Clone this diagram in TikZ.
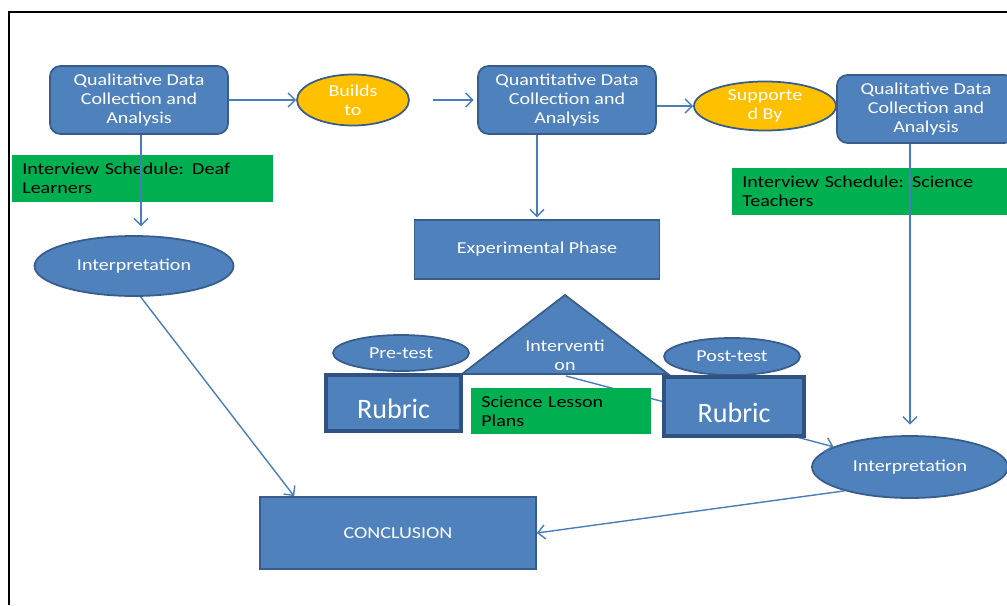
\documentclass[tikz,border=0pt]{standalone}
\usepackage{fontspec}
\setmainfont{Carlito}
\newfontfamily\widefont[FakeStretch=1.2]{Carlito}
\usepackage{tikz}
\usetikzlibrary{shapes.geometric, arrows.meta, calc}
\newcommand{\px}{0.02cm}
\definecolor{boxblue}{RGB}{79,129,189}
\definecolor{boxedge}{RGB}{56,93,138}
\definecolor{rubricedge}{RGB}{47,82,130}
\definecolor{toolgreen}{RGB}{0,176,80}
\definecolor{linkyellow}{RGB}{255,192,0}
\definecolor{lineblue}{RGB}{74,126,187}
\tikzset{>={Straight Barb[length=4pt,width=8pt]},
	flowtext/.style={font=\widefont\fontsize{9.5}{10.8}\selectfont},
	databox/.style={flowtext, rectangle, rounded corners=6pt, draw=boxedge, line width=1pt, fill=boxblue, text=white, align=center, inner sep=0pt, minimum width=178*\px, minimum height=68*\px},
	phasebox/.style={flowtext, rectangle, draw=boxedge, line width=1pt, fill=boxblue, text=white, inner sep=0pt},
	rubricbox/.style={rectangle, draw=rubricedge, line width=2.5pt, fill=boxblue, text=white, font=\fontsize{16}{18}\selectfont, text height=18pt, text depth=0pt, inner sep=0pt},
	linkoval/.style={flowtext, ellipse, draw=boxedge, line width=1pt, fill=linkyellow, text=white, align=center, inner sep=0pt},
	stepoval/.style={flowtext, ellipse, draw=boxedge, line width=1pt, fill=boxblue, text=white, inner sep=0pt},
	toolbox/.style={flowtext, rectangle, fill=toolgreen, text=black, align=left, anchor=west, inner xsep=10*\px, inner ysep=0pt},
	flow/.style={draw=lineblue, line width=0.8pt, ->}}

\begin{document}
\begin{tikzpicture}[x=\px, y=-\px]
	\useasboundingbox (0,0) rectangle (1007,605);
	\draw [line width=1.2pt] (9,605) -- (9,12) -- (1007,12);

	% top row
	\node [databox] (qualA) at (139,100) {Qualitative Data\\Collection and\\Analysis};
	\node [linkoval, minimum width=112*\px, minimum height=51*\px] (builds) at (353,100) {Builds\\to};
	\node [databox] (quant) at (567,100) {Quantitative Data\\Collection and\\Analysis};
	\node [linkoval, minimum width=142*\px, minimum height=49*\px] (supported) at (765,106) {Supporte\\d By};
	\node [databox] (qualB) at (926,109) {Qualitative Data\\Collection and\\Analysis};
	\coordinate (gapstart) at (433,100);
	\draw [flow] (qualA) -- (builds);
	\draw [flow, shorten >=2pt] (gapstart) -- (quant);
	\draw [flow] (quant.east |- supported) -- (supported);

	\node [toolbox, text width=4.82cm, minimum height=47*\px] (deafplan) at (12,178.5) {Interview Schedule: Deaf\\Learners};
	\node [toolbox, text width=5.36cm, minimum height=47*\px] (teachplan) at (732,191.5) {Interview Schedule: Science\\Teachers};

	\node [stepoval, minimum width=199*\px, minimum height=60*\px] (interpA) at (134,266) {Interpretation};
	\node [phasebox, minimum width=245*\px, minimum height=59*\px] (exper) at (537,249.5) {Experimental Phase};
	\node [stepoval, minimum width=196*\px, minimum height=62*\px] (interpB) at (910,467) {Interpretation};
	\node [phasebox, minimum width=276*\px, minimum height=72*\px] (concl) at (398,533) {CONCLUSION};

	\draw [flow, shorten >=5.5pt] (qualA.south -| 141,0) -- (141,236);
	\draw [flow, shorten >=1pt] (quant.south -| exper) -- (exper.north);
	\draw [flow, shorten >=6pt] (qualB.south -| interpB) -- (interpB.north);

	% experimental phase
	\draw [fill=boxblue, draw=boxedge, line width=1pt] (462,374) -- (565,295) -- (668,374) -- cycle;
	\node [flowtext, text=white, align=center, inner sep=0pt] (interv) at (565,355) {Interventi\\on};
	\coordinate (trimid) at (566,376);
	\draw [flow] (trimid) -- (interpB);
	\node [stepoval, minimum width=136*\px, minimum height=36*\px] (pretest) at (401,353) {Pre-test};
	\node [stepoval, minimum width=136*\px, minimum height=37*\px] (posttest) at (732,356.5) {Post-test};
	\node [rubricbox, minimum width=135*\px, minimum height=56*\px] (rubricA) at (393.5,403) {Rubric};
	\node [rubricbox, minimum width=140*\px, minimum height=59*\px] (rubricB) at (734,406.5) {Rubric};
	\node [toolbox, text width=3.2cm, minimum height=46*\px] (lessons) at (471,411) {Science Lesson\\Plans};

	\draw [flow] (interpA.-78) -- ($(concl.north west)+(35,0)$);
	\draw [flow] (interpB.200) -- (concl.east);
\end{tikzpicture}
\end{document}
